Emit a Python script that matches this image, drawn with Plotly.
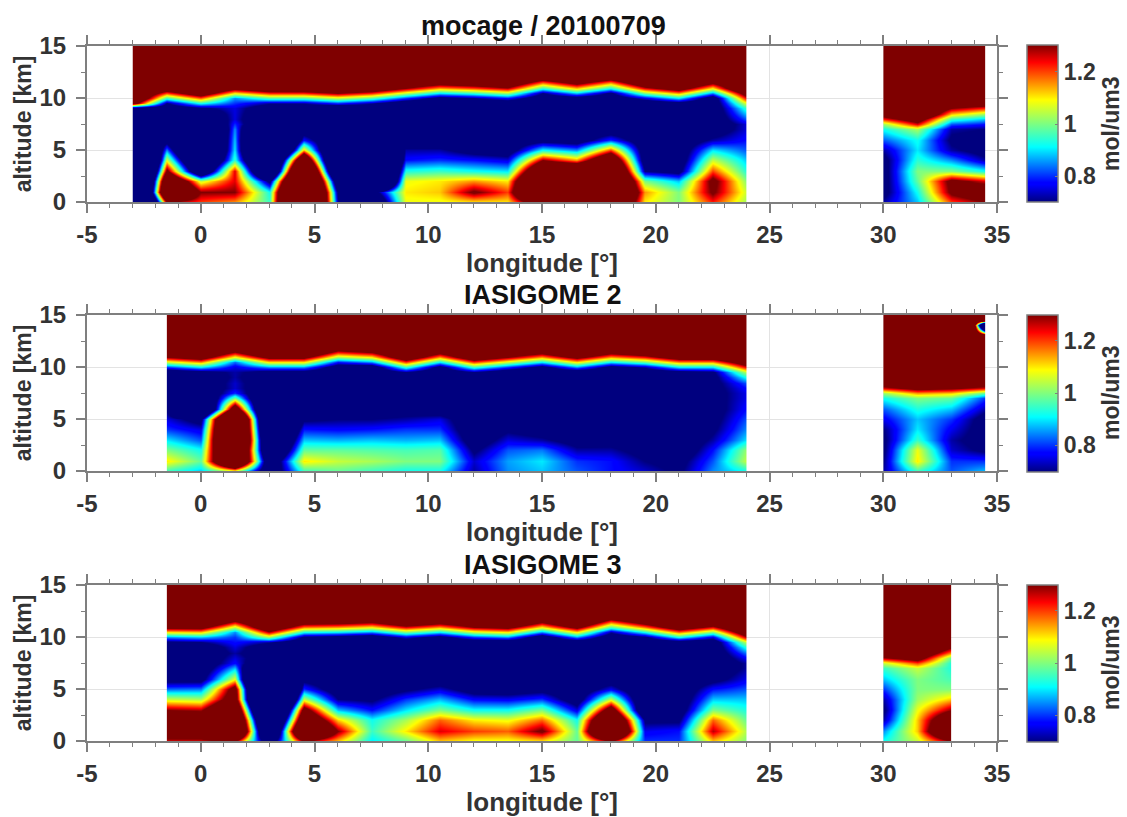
import numpy as np
import plotly.graph_objects as go

ALTITUDES = [0, 1, 2, 3, 4, 5, 6, 7, 7.5, 8, 8.5, 9, 9.5, 10, 10.5, 11, 11.5, 12, 13, 14, 14.5, 15]
LONS_WEST_1 = [-3, -1.5, 0, 1.5, 3, 4.5, 6, 7.5, 9, 10.5, 12, 13.5, 15, 16.5, 18, 19.5, 21, 22.5, 24]
LONS_WEST_23 = LONS_WEST_1[1:]
LONS_EAST_12 = [30, 31.5, 33, 34.5]
LONS_EAST_3 = [30, 31.5, 33]
TITLES = ["mocage / 20100709", "IASIGOME 2", "IASIGOME 3"]
X_TICKS = [-5, 0, 5, 10, 15, 20, 25, 30, 35]
X_TICKTEXT = ["-5", "0", "5", "10", "15", "20", "25", "30", "35"]
Y_TICKS = [0, 5, 10, 15]
CB_TICKS = [0.8, 1, 1.2]
CB_TICKTEXT = ["0.8", "1", "1.2"]

# each row is one vertical profile (mol/um3) at the longitude of the same index, bottom to top
MOCAGE_WEST = [
    [-1,-1,-1,-1,-1,-.4,.6,.6, .6,.6,.6,.62,1.4,1.6,1.6,1.6,1.6,1.6, 1.6,1.6,1.6,1.6],
    [1.3,1.9,1.7,1.35,1.07,.85,.62,.6, .6,.6,.6,.6,.7,.95,1.2,1.45,1.6,1.6, 1.6,1.6,1.6,1.6],
    [1.2,1.3,1.05,.4,.2,0,0,0, .3,.5,.55,.68,.93,1.18,1.43,1.6,1.6,1.6, 1.6,1.6,1.6,1.6],
    [1.15,1.3,1.25,1.25,.95,.9,.88,.85, .8,.75,.75,.75,.8,.85,1.1,1.35,1.6,1.6, 1.6,1.6,1.6,1.6],
    [.95,.92,.66,.1,0,-.3,-.3,0, .4,.5,.55,.6,.72,.97,1.22,1.47,1.6,1.6, 1.6,1.6,1.6,1.6],
    [2.6,2.6,2.4,2.2,1.7,1.13,.78,.6, .6,.6,.6,.6,.72,.97,1.22,1.47,1.6,1.6, 1.6,1.6,1.6,1.6],
    [.72,.67,.47,.1,0,.2,.5,.6, .6,.6,.6,.55,.8,1.05,1.3,1.5,1.6,1.6, 1.6,1.6,1.6,1.6],
    [.4,.6,-.5,-.5,-.5,-.5,.4,.6, .6,.6,.6,.6,.72,.97,1.22,1.47,1.6,1.6, 1.6,1.6,1.6,1.6],
    [1.08,1.1,1.08,.93,.78,.72,.6,.6, .6,.6,.6,.6,.6,.8,1.05,1.3,1.5,1.6, 1.6,1.6,1.6,1.6],
    [1.08,1.12,1.1,.95,.8,.72,.6,.6, .6,.6,.6,.6,.6,.65,.9,1.15,1.4,1.6, 1.6,1.6,1.6,1.6],
    [1.1,1.32,1.15,.92,.78,.65,.6,.6, .6,.6,.6,.6,.6,.7,.95,1.2,1.45,1.6, 1.6,1.6,1.6,1.6],
    [1.1,1.2,1.1,.9,.75,.62,.6,.6, .6,.6,.6,.6,.6,.78,1.03,1.28,1.5,1.6, 1.6,1.6,1.6,1.6],
    [1.5,2,2,1.7,1.3,.92,.65,.6, .6,.6,.6,.6,.6,.6,.7,.95,1.2,1.45, 1.6,1.6,1.6,1.6],
    [1.6,1.7,1.7,1.7,1.15,.85,.62,.6, .6,.6,.6,.6,.6,.63,.88,1.13,1.38,1.6, 1.6,1.6,1.6,1.6],
    [1.8,2,2,1.9,1.6,1.2,.8,.6, .6,.6,.6,.6,.6,.6,.68,.93,1.18,1.43, 1.6,1.6,1.6,1.6],
    [1.1,1.15,1,.7,.6,.6,.6,.6, .6,.6,.6,.6,.6,.75,1,1.25,1.5,1.6, 1.6,1.6,1.6,1.6],
    [1,1,.88,.65,.6,.6,.6,.6, .6,.6,.6,.6,.65,.9,1.15,1.4,1.6,1.6, 1.6,1.6,1.6,1.6],
    [1.22,1.32,1.35,1.2,1.05,.9,.72,.62, .6,.6,.6,.6,.6,.6,.85,1.1,1.35,1.6, 1.6,1.6,1.6,1.6],
    [1.02,1.05,1,.93,.88,.82,.78,.75, .75,.82,.88,.95,1.08,1.25,1.4,1.6,1.6,1.6, 1.6,1.6,1.6,1.6],
]
MOCAGE_EAST = [
    [.72,.66,.65,.65,.66,.72,.82,.92, 1.02,1.22,1.38,1.6,1.6,1.6,1.6,1.6,1.6,1.6, 1.6,1.6,1.6,1.6],
    [.88,.92,.98,1,.94,.9,.92,1.03, 1.25,1.4,1.6,1.6,1.6,1.6,1.6,1.6,1.6,1.6, 1.6,1.6,1.6,1.6],
    [1.2,1.33,1.35,1,.85,.72,.68,.72, .82,.95,1.12,1.3,1.45,1.6,1.6,1.6,1.6,1.6, 1.6,1.6,1.6,1.6],
    [1.3,1.45,1.25,.92,.72,.65,.65,.7, .78,.88,1.02,1.22,1.4,1.6,1.6,1.6,1.6,1.6, 1.6,1.6,1.6,1.6],
]
IASI2_WEST = [
    [.95,1.1,1,.9,.8,.75,.68,.62, .6,.6,.6,.6,.6,.8,1.05,1.3,1.5,1.6, 1.6,1.6,1.6,1.6],
    [.88,.98,.92,.82,.75,.65,.1,.4, .55,.6,.6,.6,.65,.9,1.15,1.4,1.6,1.6, 1.6,1.6,1.6,1.6],
    [1.05,1.9,2,2.2,2.2,2.2,1.5,1, .8,.74,.74,.72,.72,.75,.83,1.08,1.33,1.58, 1.6,1.6,1.6,1.6],
    [.55,.5,.3,.2,.1,0,.1,.3, .5,.6,.6,.6,.65,.85,1.1,1.35,1.6,1.6, 1.6,1.6,1.6,1.6],
    [.95,1.1,.98,.88,.78,.68,.6,.6, .6,.6,.6,.6,.65,.85,1.1,1.35,1.6,1.6, 1.6,1.6,1.6,1.6],
    [.98,1.05,.98,.87,.77,.7,.62,.6, .6,.6,.6,.6,.6,.62,.78,1.03,1.28,1.53, 1.6,1.6,1.6,1.6],
    [.95,1.03,.97,.88,.78,.7,.62,.6, .6,.6,.6,.6,.6,.6,.85,1.1,1.35,1.6, 1.6,1.6,1.6,1.6],
    [.92,1,.96,.87,.8,.72,.65,.6, .6,.6,.6,.6,.7,.95,1.2,1.45,1.6,1.6, 1.6,1.6,1.6,1.6],
    [.92,1,.97,.88,.8,.75,.62,.6, .6,.6,.6,.6,.6,.65,.9,1.15,1.4,1.6, 1.6,1.6,1.6,1.6],
    [.72,.74,.68,.62,.6,.6,.6,.6, .6,.6,.6,.6,.7,.95,1.2,1.45,1.6,1.6, 1.6,1.6,1.6,1.6],
    [.85,.86,.82,.75,.68,.6,.6,.6, .6,.6,.6,.6,.6,.8,1.05,1.3,1.5,1.6, 1.6,1.6,1.6,1.6],
    [.88,.9,.84,.72,.64,.6,.6,.6, .6,.6,.6,.6,.6,.65,.9,1.15,1.4,1.6, 1.6,1.6,1.6,1.6],
    [.82,.8,.72,.65,.6,.6,.6,.6, .6,.6,.6,.6,.6,.85,1.1,1.35,1.6,1.6, 1.6,1.6,1.6,1.6],
    [.78,.78,.72,.66,.6,.6,.6,.6, .6,.6,.6,.6,.6,.65,.9,1.15,1.4,1.6, 1.6,1.6,1.6,1.6],
    [.74,.7,.66,.6,.6,.6,.6,.6, .6,.6,.6,.6,.6,.72,.98,1.23,1.48,1.6, 1.6,1.6,1.6,1.6],
    [.68,.66,.6,.6,.6,.6,.6,.6, .6,.6,.6,.6,.65,.9,1.15,1.4,1.6,1.6, 1.6,1.6,1.6,1.6],
    [.85,.82,.78,.72,.68,.66,.65,.66, .66,.66,.66,.66,.68,.9,1.15,1.4,1.6,1.6, 1.6,1.6,1.6,1.6],
    [.92,1.05,1.02,.9,.85,.82,.78,.76, .76,.78,.82,.93,1.05,1.25,1.42,1.6,1.6,1.6, 1.6,1.6,1.6,1.6],
]
IASI2_EAST = [
    [.72,.7,.68,.68,.7,.76,.82,.92, 1.02,1.25,1.4,1.6,1.6,1.6,1.6,1.6,1.6,1.6, 1.6,1.6,1.6,1.6],
    [.95,1.1,1.08,.95,.9,.88,.93,1, 1.15,1.35,1.5,1.6,1.6,1.6,1.6,1.6,1.6,1.6, 1.6,1.6,1.6,1.6],
    [.82,.8,.74,.72,.76,.8,.88,.98, 1.12,1.32,1.42,1.6,1.6,1.6,1.6,1.6,1.6,1.6, 1.6,5,1.6,1.6],
    [.88,.8,.68,.65,.65,.65,.72,.8, .98,1.25,1.4,1.6,1.6,1.6,1.6,1.6,1.6,1.6, 1.6,-.3,1.6,1.6],
]
IASI3_WEST = [
    [1.25,1.45,1.45,1.3,1.05,.83,.65,.6, .6,.6,.6,.6,.68,.85,1.1,1.35,1.6,1.6, 1.6,1.6,1.6,1.6],
    [1.25,1.45,1.45,1.28,1.03,.84,.65,.6, .6,.6,.6,.6,.7,.88,1.12,1.37,1.6,1.6, 1.6,1.6,1.6,1.6],
    [1.3,2,1.9,1.7,1.45,1.4,1.08,.88, .78,.75,.72,.75,.78,.8,.85,1.05,1.3,1.55, 1.6,1.6,1.6,1.6],
    [.55,.1,-.1,-.37,-.7,-.7,-.7,0, .5,.6,.6,.6,.72,1.02,1.27,1.5,1.6,1.6, 1.6,1.6,1.6,1.6],
    [1.3,1.9,1.6,1.4,1.05,.8,.66,.6, .6,.6,.6,.6,.6,.68,.92,1.17,1.42,1.6, 1.6,1.6,1.6,1.6],
    [1.12,1.3,1.12,.88,.7,.62,.6,.6, .6,.6,.6,.6,.6,.65,.9,1.15,1.4,1.6, 1.6,1.6,1.6,1.6],
    [.9,.95,.92,.78,.68,.62,.6,.6, .6,.6,.6,.6,.6,.6,.85,1.1,1.35,1.6, 1.6,1.6,1.6,1.6],
    [.98,1.1,1.03,.9,.8,.68,.6,.6, .6,.6,.6,.6,.6,.75,1,1.25,1.5,1.6, 1.6,1.6,1.6,1.6],
    [1.12,1.25,1.18,1,.87,.74,.62,.6, .6,.6,.6,.6,.6,.65,.9,1.15,1.4,1.6, 1.6,1.6,1.6,1.6],
    [1.08,1.2,1.1,.92,.77,.64,.6,.6, .6,.6,.6,.6,.6,.8,1.05,1.3,1.5,1.6, 1.6,1.6,1.6,1.6],
    [1.08,1.18,1.08,.92,.76,.63,.6,.6, .6,.6,.6,.6,.6,.85,1.1,1.35,1.6,1.6, 1.6,1.6,1.6,1.6],
    [1.1,1.32,1.18,1,.8,.66,.6,.6, .6,.6,.6,.6,.6,.6,.85,1.1,1.35,1.6, 1.6,1.6,1.6,1.6],
    [.98,.98,.92,.75,.62,.6,.6,.6, .6,.6,.6,.6,.6,.85,1.1,1.35,1.6,1.6, 1.6,1.6,1.6,1.6],
    [1.3,2,1.8,1.45,1.05,.76,.62,.6, .6,.6,.6,.6,.6,.6,.72,.97,1.22,1.47, 1.6,1.6,1.6,1.6],
    [.8,.76,.68,.45,.5,.55,.6,.6, .6,.6,.6,.6,.6,.68,.92,1.17,1.42,1.6, 1.6,1.6,1.6,1.6],
    [.8,.78,.68,.62,.6,.6,.6,.6, .6,.6,.6,.6,.62,.92,1.17,1.42,1.6,1.6, 1.6,1.6,1.6,1.6],
    [1.12,1.27,1.18,1,.88,.78,.66,.6, .6,.6,.6,.6,.6,.75,1,1.25,1.5,1.6, 1.6,1.6,1.6,1.6],
    [1,1.03,.98,.93,.88,.82,.76,.72, .72,.77,.84,.94,1.06,1.28,1.45,1.6,1.6,1.6, 1.6,1.6,1.6,1.6],
]
IASI3_EAST = [
    [.92,.85,.72,.68,.72,.8,.88,.95, 1.05,1.27,1.42,1.6,1.6,1.6,1.6,1.6,1.6,1.6, 1.6,1.6,1.6,1.6],
    [1.05,1.12,1.12,1.08,1.02,1,1,1.05, 1.2,1.38,1.5,1.6,1.6,1.6,1.6,1.6,1.6,1.6, 1.6,1.6,1.6,1.6],
    [1.3,1.7,1.55,1.3,1.12,1,.96,.93, .93,.98,1.15,1.32,1.45,1.6,1.6,1.6,1.6,1.6, 1.6,1.6,1.6,1.6],
]

JET = [[0, "#00007f"], [0.11, "#0000ff"], [0.125, "#0000ff"], [0.35, "#00ffff"], [0.5, "#7fff7f"],
       [0.65, "#ffff00"], [0.89, "#ff0000"], [1, "#7f0000"]]
FONT = "Liberation Sans"
TICK_C = "#333333"
AX_C = "#7f7f7f"
W, H = 1127, 817
LEFT, RIGHT = 87, 997
PANELS = [(46, 202), (315, 471), (585, 741)]
SEGMENTS = [
    [(LONS_WEST_1, MOCAGE_WEST), (LONS_EAST_12, MOCAGE_EAST)],
    [(LONS_WEST_23, IASI2_WEST), (LONS_EAST_12, IASI2_EAST)],
    [(LONS_WEST_23, IASI3_WEST), (LONS_EAST_3, IASI3_EAST)],
]

fig = go.Figure()
layout = dict(width=W, height=H, margin=dict(l=0, r=0, t=0, b=0, autoexpand=False), paper_bgcolor="white",
              plot_bgcolor="white", showlegend=False, annotations=[])

for i, ((top, bottom), segs, title) in enumerate(zip(PANELS, SEGMENTS, TITLES)):
    n = "" if i == 0 else str(i + 1)
    for lons, rows in segs:
        fig.add_trace(go.Contour(
            x=lons, y=ALTITUDES, z=np.array(rows, dtype=float).T,
            coloraxis="coloraxis" + n, xaxis="x" + n, yaxis="y" + n,
            contours=dict(coloring="heatmap", showlines=False),
            line=dict(width=0), hoverinfo="skip"))
    layout["xaxis" + n] = dict(
        domain=[LEFT / W, RIGHT / W], anchor="y" + n, range=[-5, 35],
        tickvals=X_TICKS, ticktext=X_TICKTEXT,
        ticks="outside", ticklen=9, tickwidth=1.5, tickcolor=AX_C, mirror="allticks",
        ticklabelstandoff=1,
        showline=True, linecolor=AX_C, linewidth=2, showgrid=True, gridcolor="#e3e3e3", gridwidth=1,
        zeroline=False, tickfont=dict(family=FONT, size=24, color=TICK_C, weight="bold"),
        minor=dict(dtick=1, ticks="outside", ticklen=4, tickcolor=AX_C, tickwidth=1.2, showgrid=False),
        title=dict(text="longitude [°]", standoff=5,
                   font=dict(family=FONT, size=26, color=TICK_C, weight="bold")))
    layout["yaxis" + n] = dict(
        domain=[1 - bottom / H, 1 - top / H], anchor="x" + n, range=[0, 15], tickvals=Y_TICKS,
        ticks="outside", ticklen=9, tickwidth=1.5, tickcolor=AX_C, mirror="allticks",
        ticklabelstandoff=5,
        showline=True, linecolor=AX_C, linewidth=2, showgrid=True, gridcolor="#e3e3e3", gridwidth=1,
        zeroline=False, tickfont=dict(family=FONT, size=24, color=TICK_C, weight="bold"),
        minor=dict(dtick=2.5, ticks="outside", ticklen=4, tickcolor=AX_C, tickwidth=1.2, showgrid=False),
        title=dict(text="altitude [km]", standoff=1,
                   font=dict(family=FONT, size=23, color=TICK_C, weight="bold")))
    layout["coloraxis" + n] = dict(
        cmin=0.7, cmax=1.3, colorscale=JET,
        colorbar=dict(
            x=1027 / W, xanchor="left", y=1 - (top + bottom) / 2 / H, yanchor="middle",
            thickness=31, thicknessmode="pixels", len=bottom - top + 1, lenmode="pixels",
            xpad=0, ypad=0, outlinecolor=AX_C, outlinewidth=1.5, tickvals=CB_TICKS, ticktext=CB_TICKTEXT,
            ticks="inside", ticklen=3, tickcolor=AX_C,
            tickfont=dict(family=FONT, size=23, color=TICK_C, weight="bold")))
    layout["annotations"].append(dict(
        text=title, xref="paper", yref="paper", x=543 / W, y=1 - (top - 20) / H,
        xanchor="center", yanchor="middle", showarrow=False,
        font=dict(family=FONT, size=27, color="#111111", weight="bold")))
    layout["annotations"].append(dict(
        text="mol/um3", xref="paper", yref="paper", x=1111 / W, y=1 - (top + bottom) / 2 / H,
        xanchor="center", yanchor="middle", textangle=-90, showarrow=False,
        font=dict(family=FONT, size=23, color=TICK_C, weight="bold")))

fig.update_layout(**layout)
fig.write_html("out.html", post_script="document.body.style.margin='0';",
               config={"displayModeBar": False})
